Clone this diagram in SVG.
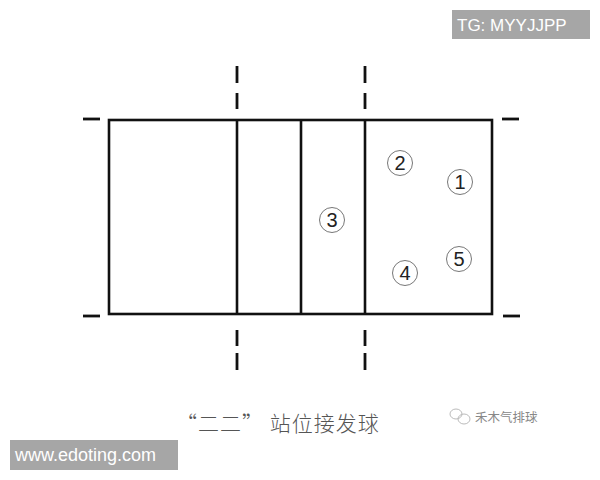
<svg xmlns="http://www.w3.org/2000/svg" width="600" height="480" viewBox="0 0 600 480">
<style>
.ln{stroke:#111;stroke-width:2.6;fill:none}
.ds{stroke:#111;stroke-width:2.8;fill:none;stroke-linecap:butt}
.pc{fill:#fff;stroke:#777;stroke-width:1}
.pt{font-family:"Liberation Sans",Arial,sans-serif;font-size:20px;fill:#222;text-anchor:middle}
.lab{font-family:"Liberation Sans",Arial,sans-serif;fill:#fff}
</style>
<rect width="600" height="480" fill="#fff"/>
<g id="court">
<rect class="ln" x="109" y="120" width="383" height="194"/>
<line class="ln" x1="237" y1="120" x2="237" y2="314"/>
<line class="ln" x1="301" y1="120" x2="301" y2="314"/>
<line class="ln" x1="365" y1="120" x2="365" y2="314"/>
</g>
<g id="marks">
<line class="ds" x1="237" y1="66" x2="237" y2="83"/>
<line class="ds" x1="237" y1="93" x2="237" y2="109"/>
<line class="ds" x1="365" y1="66" x2="365" y2="83"/>
<line class="ds" x1="365" y1="93" x2="365" y2="109"/>
<line class="ds" x1="237" y1="330" x2="237" y2="346"/>
<line class="ds" x1="237" y1="353" x2="237" y2="370"/>
<line class="ds" x1="365" y1="330" x2="365" y2="346"/>
<line class="ds" x1="365" y1="353" x2="365" y2="370"/>
<line class="ds" x1="83" y1="119" x2="100" y2="119"/>
<line class="ds" x1="83" y1="316" x2="100" y2="316"/>
<line class="ds" x1="502" y1="119" x2="519" y2="119"/>
<line class="ds" x1="503" y1="316" x2="520" y2="316"/>
</g>
<g id="p2"><circle class="pc" cx="400" cy="163" r="12.5"/><text class="pt" x="400" y="170">2</text></g>
<g id="p1"><circle class="pc" cx="460" cy="182" r="12.5"/><text class="pt" x="460" y="189">1</text></g>
<g id="p3"><circle class="pc" cx="332" cy="220" r="12.5"/><text class="pt" x="332" y="227">3</text></g>
<g id="p5"><circle class="pc" cx="459" cy="259" r="12.5"/><text class="pt" x="459" y="266">5</text></g>
<g id="p4"><circle class="pc" cx="405" cy="273" r="12.5"/><text class="pt" x="405" y="280">4</text></g>
<text x="176" y="431" font-family="Noto Sans CJK SC, sans-serif" font-size="21" fill="#555" font-weight="300" letter-spacing="1">“二二” 站位接发球</text>
<g id="logo" fill="none" stroke="#bbb" stroke-width="1">
<ellipse cx="456" cy="414" rx="6" ry="5"/>
<ellipse cx="464" cy="419" rx="6" ry="5"/>
</g>
<text x="475" y="422" font-family="Noto Sans CJK SC, sans-serif" font-size="12.5" fill="#888">禾木气排球</text>
<rect x="452" y="10" width="138" height="29" fill="#a6a6a6"/>
<text class="lab" x="457" y="31" font-size="17">TG: MYYJJPP</text>
<rect x="10" y="440" width="168" height="30" fill="#a6a6a6"/>
<text class="lab" x="15" y="461" font-size="18">www.edoting.com</text>
</svg>
